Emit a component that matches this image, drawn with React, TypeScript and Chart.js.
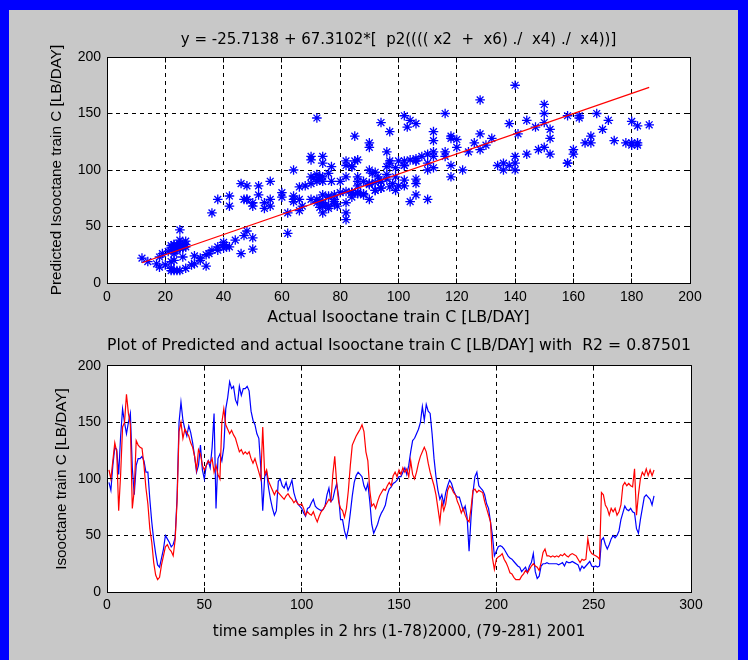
import React, { useEffect, useRef } from "react";
import { Chart, registerables } from "chart.js";

Chart.register(...registerables);

// ---- data ----
const actual: number[] = [
  97, 90, 112, 128, 126, 104, 138, 162, 150, 140,
  150, 158, 110, 86, 112, 118, 118, 120, 116, 106,
  106, 82, 62, 46, 34, 24, 22, 30, 38, 50,
  47, 44, 40, 42, 48, 84, 150, 168, 152, 144,
  138, 147, 141, 132, 120, 106, 112, 130, 108, 100,
  112, 116, 110, 128, 158, 74, 118, 122, 116, 128,
  162, 172, 186, 180, 182, 170, 166, 182, 174, 180,
  180, 182, 178, 160, 152, 148, 140, 136, 110, 72,
  102, 106, 92, 82, 74, 68, 72, 98, 100, 94,
  92, 97, 90, 94, 99, 88, 82, 78, 76, 74,
  70, 67, 74, 75, 79, 82, 76, 74, 73, 72,
  73, 76, 86, 92, 80, 82, 90, 96, 84, 64,
  64, 54, 48, 56, 70, 85, 97, 103, 106, 104,
  102, 94, 90, 96, 80, 60, 52, 56, 60, 66,
  70, 73, 77, 86, 91, 93, 96, 97, 99, 102,
  102, 106, 110, 104, 112, 124, 134, 136, 140, 144,
  150, 164, 152, 166, 160, 158, 140, 118, 102, 90,
  82, 86, 78, 88, 94, 99, 96, 90, 86, 84,
  84, 78, 72, 76, 66, 36, 66, 88, 102, 106,
  94, 92, 90, 86, 78, 74, 62, 50, 32, 36,
  40, 41, 40, 38, 35, 32, 30, 29, 27, 25,
  23, 22, 18, 20, 22, 17, 23, 26, 34, 18,
  12, 14, 23, 25, 25, 26, 25, 25, 25, 25,
  25, 24, 25, 26, 23, 27, 26, 26, 27, 26,
  25, 24, 19, 23, 21, 23, 25, 27, 23, 22,
  23, 22, 23, 46, 48, 42, 38, 42, 47, 50,
  48, 50, 54, 64, 70, 76, 73, 72, 74, 71,
  70, 56, 52, 64, 74, 84, 86, 84, 82, 77, 85,
];

const predicted: number[] = [
  108, 100, 116, 132, 124, 72, 104, 146, 150, 175,
  158, 148, 74, 90, 134, 130, 128, 127, 112, 92,
  78, 56, 44, 26, 15, 11, 13, 24, 32, 40,
  42, 38, 36, 32, 46, 80, 142, 150, 136, 144,
  141, 138, 132, 128, 120, 108, 126, 122, 112, 108,
  112, 116, 114, 118, 106, 112, 104, 100, 150, 162,
  148, 144, 140, 143, 139, 136, 130, 124, 126, 122,
  124, 122, 124, 118, 114, 118, 112, 106, 100, 146,
  104, 108, 98, 94, 90, 86, 90, 88, 86, 84,
  82, 85, 87, 84, 82, 79, 81, 78, 77, 78,
  74, 68, 71, 69, 68, 71, 66, 62, 67, 71,
  73, 76, 79, 82, 80, 104, 120, 96, 80, 74,
  72, 66, 74, 90, 112, 130, 134, 138, 141, 144,
  148, 142, 124, 116, 90, 76, 78, 74, 80, 85,
  88, 91, 90, 94, 97, 94, 103, 106, 102, 108,
  104, 110, 106, 109, 102, 116, 104, 100, 106, 114,
  120, 124, 128, 124, 114, 106, 100, 94, 86, 74,
  62, 80, 72, 78, 90, 94, 92, 88, 86, 80,
  76, 70, 74, 68, 64, 62, 74, 90, 91, 88,
  90, 89, 88, 80, 74, 68, 62, 30, 20, 29,
  31, 32, 34, 29, 26, 22, 17, 16, 13, 11,
  11, 11, 14, 16, 19, 17, 20, 23, 25, 23,
  22, 19, 26, 35, 38, 32, 32, 31, 32, 31,
  32, 31, 33, 32, 34, 32, 31, 33, 34, 33,
  32, 29, 26, 29, 28, 29, 47, 37, 34, 33,
  32, 31, 29, 88, 86, 77, 74, 68, 74, 71,
  74, 68, 71, 77, 94, 97, 94, 96, 94, 93,
  109, 68, 86, 100, 106, 103, 109, 103, 108, 103, 108,
];

// fitted line
const fitIntercept = 7.2;
const fitSlope = 0.892;

const scatterXTicks = [0, 20, 40, 60, 80, 100, 120, 140, 160, 180, 200];
const valueTicks = [0, 50, 100, 150, 200];
const timeTicks = [0, 50, 100, 150, 200, 250, 300];

const topTitle = "y = -25.7138 + 67.3102*[  p2(((( x2  +  x6) ./  x4) ./  x4))]";
const topXLabel = "Actual Isooctane train C [LB/DAY]";
const topYLabel = "Predicted Isooctane train C [LB/DAY]";
const bottomTitle = "Plot of Predicted and actual Isooctane train C [LB/DAY] with  R2 = 0.87501";
const bottomXLabel = "time samples in 2 hrs (1-78)2000, (79-281) 2001";
const bottomYLabel = "Isooctane train C [LB/DAY]";

// ---- styling ----
const FONT = "'Liberation Sans', Arial, Helvetica, sans-serif";
const WIDE_FONT = "'DejaVu Sans', 'Liberation Sans', sans-serif";
const BLUE = "#0000ff";
const RED = "#ff0000";
const GRAY = "#c8c8c8";
const W = 748;
const H = 330;

const font = (size: number, family = FONT) => ({ family, size, lineHeight: 1.2, weight: "normal" });

const framePlugin = {
  id: "matlabFrame",
  beforeDraw(chart: any) {
    const { ctx, chartArea: a } = chart;
    ctx.save();
    ctx.fillStyle = "#ffffff";
    ctx.fillRect(a.left, a.top, a.right - a.left, a.bottom - a.top);
    ctx.restore();
  },
  afterDraw(chart: any) {
    const { ctx, chartArea: a, scales } = chart;
    const L = Math.floor(a.left) + 0.5;
    const R = Math.floor(a.right) + 0.5;
    const T = Math.floor(a.top) + 0.5;
    const B = Math.floor(a.bottom) + 0.5;
    const tl = 5;
    ctx.save();
    ctx.strokeStyle = "#000";
    ctx.lineWidth = 1;
    ctx.setLineDash([]);
    ctx.beginPath();
    ctx.rect(L, T, R - L, B - T);
    scales.x.ticks.forEach((t: any) => {
      const px = Math.floor(scales.x.getPixelForValue(t.value)) + 0.5;
      ctx.moveTo(px, B);
      ctx.lineTo(px, B - tl);
      ctx.moveTo(px, T);
      ctx.lineTo(px, T + tl);
    });
    scales.y.ticks.forEach((t: any) => {
      const py = Math.floor(scales.y.getPixelForValue(t.value)) + 0.5;
      ctx.moveTo(L, py);
      ctx.lineTo(L + tl, py);
      ctx.moveTo(R, py);
      ctx.lineTo(R - tl, py);
    });
    ctx.stroke();
    ctx.restore();
  },
};

function axis(
  min: number,
  max: number,
  ticks: number[],
  fit: (s: any) => void,
  tickPad: number,
  title: string,
  titleFont: any,
  titlePad: any
) {
  return {
    type: "linear",
    min,
    max,
    afterBuildTicks: (s: any) => {
      s.ticks = ticks.map((v) => ({ value: v }));
    },
    afterFit: fit,
    grid: { color: "#000", lineWidth: 1, drawTicks: false },
    border: { display: true, color: "#000", width: 1, dash: [4, 4] },
    ticks: { color: "#000", font: font(14), padding: tickPad, maxRotation: 0, autoSkip: false },
    title: { display: true, text: title, color: "#000", font: titleFont, padding: titlePad },
  };
}

function topConfig(): any {
  const xMin = Math.min(...actual);
  const xMax = Math.max(...actual);
  return {
    type: "scatter",
    data: {
      datasets: [
        {
          label: "fit",
          data: [
            { x: xMin, y: fitIntercept + fitSlope * xMin },
            { x: xMax, y: fitIntercept + fitSlope * xMax },
          ],
          showLine: true,
          borderColor: RED,
          borderWidth: 1.2,
          pointRadius: 0,
          fill: false,
        },
        {
          label: "data",
          data: actual.map((a, i) => ({ x: a, y: predicted[i] })),
          pointStyle: "star",
          pointRadius: 4.8,
          borderColor: BLUE,
          backgroundColor: BLUE,
          pointBorderWidth: 1.3,
        },
      ],
    },
    options: {
      responsive: false,
      animation: false,
      devicePixelRatio: 1,
      events: [],
      layout: { padding: { left: 0, right: W - 690, top: 31, bottom: 0 }, autoPadding: false },
      plugins: {
        legend: { display: false },
        tooltip: { enabled: false },
        title: {
          display: true,
          text: topTitle,
          fullSize: false,
          color: "#000",
          font: font(15, WIDE_FONT),
          padding: { top: 0, bottom: 8 },
        },
      },
      scales: {
        x: axis(0, 200, scatterXTicks, (s: any) => { s.height = H - 283; }, 6, topXLabel, font(15.8, WIDE_FONT), { top: 0, bottom: 2.5 }),
        y: axis(0, 200, valueTicks, (s: any) => { s.width = 107; }, 6, topYLabel, font(15.3), { top: 47.5, bottom: 0 }),
      },
    },
    plugins: [framePlugin],
  };
}

function bottomConfig(): any {
  const t = actual.map((_, i) => i + 1);
  return {
    type: "scatter",
    data: {
      datasets: [
        {
          label: "predicted",
          data: predicted.map((v, i) => ({ x: t[i], y: v })),
          showLine: true,
          borderColor: RED,
          borderWidth: 1.2,
          pointRadius: 0,
          fill: false,
        },
        {
          label: "actual",
          data: actual.map((v, i) => ({ x: t[i], y: v })),
          showLine: true,
          borderColor: BLUE,
          borderWidth: 1.2,
          pointRadius: 0,
          fill: false,
        },
      ],
    },
    options: {
      responsive: false,
      animation: false,
      devicePixelRatio: 1,
      events: [],
      layout: { padding: { left: 0, right: W - 691, top: 6.5, bottom: 0 }, autoPadding: false },
      plugins: {
        legend: { display: false },
        tooltip: { enabled: false },
        title: {
          display: true,
          text: bottomTitle,
          fullSize: false,
          color: "#000",
          font: font(15.8, WIDE_FONT),
          padding: { top: 0, bottom: 10.5 },
        },
      },
      scales: {
        x: axis(0, 300, timeTicks, (s: any) => { s.height = H - 262; }, 5, bottomXLabel, font(15.2, WIDE_FONT), { top: 0, bottom: 18.8 }),
        y: axis(0, 200, valueTicks, (s: any) => { s.width = 107; }, 6, bottomYLabel, font(15.3), { top: 53, bottom: 0 }),
      },
    },
    plugins: [framePlugin],
  };
}

function ChartCanvas({ make, top }: { make: () => any; top: number }) {
  const ref = useRef<HTMLCanvasElement>(null);
  useEffect(() => {
    const chart = new Chart(ref.current as HTMLCanvasElement, make());
    return () => chart.destroy();
  }, []);
  return (
    <canvas
      ref={ref}
      width={W}
      height={H}
      style={{ position: "absolute", left: 0, top, width: W, height: H, display: "block" }}
    />
  );
}

export default function App() {
  return (
    <div
      style={{
        position: "fixed",
        left: 0,
        top: 0,
        width: W,
        height: 660,
        background: BLUE,
        overflow: "hidden",
      }}
    >
      <div
        style={{
          position: "absolute",
          left: 9,
          top: 10,
          right: 10,
          bottom: 0,
          background: GRAY,
        }}
      />
      <ChartCanvas make={topConfig} top={0} />
      <ChartCanvas make={bottomConfig} top={H} />
    </div>
  );
}
